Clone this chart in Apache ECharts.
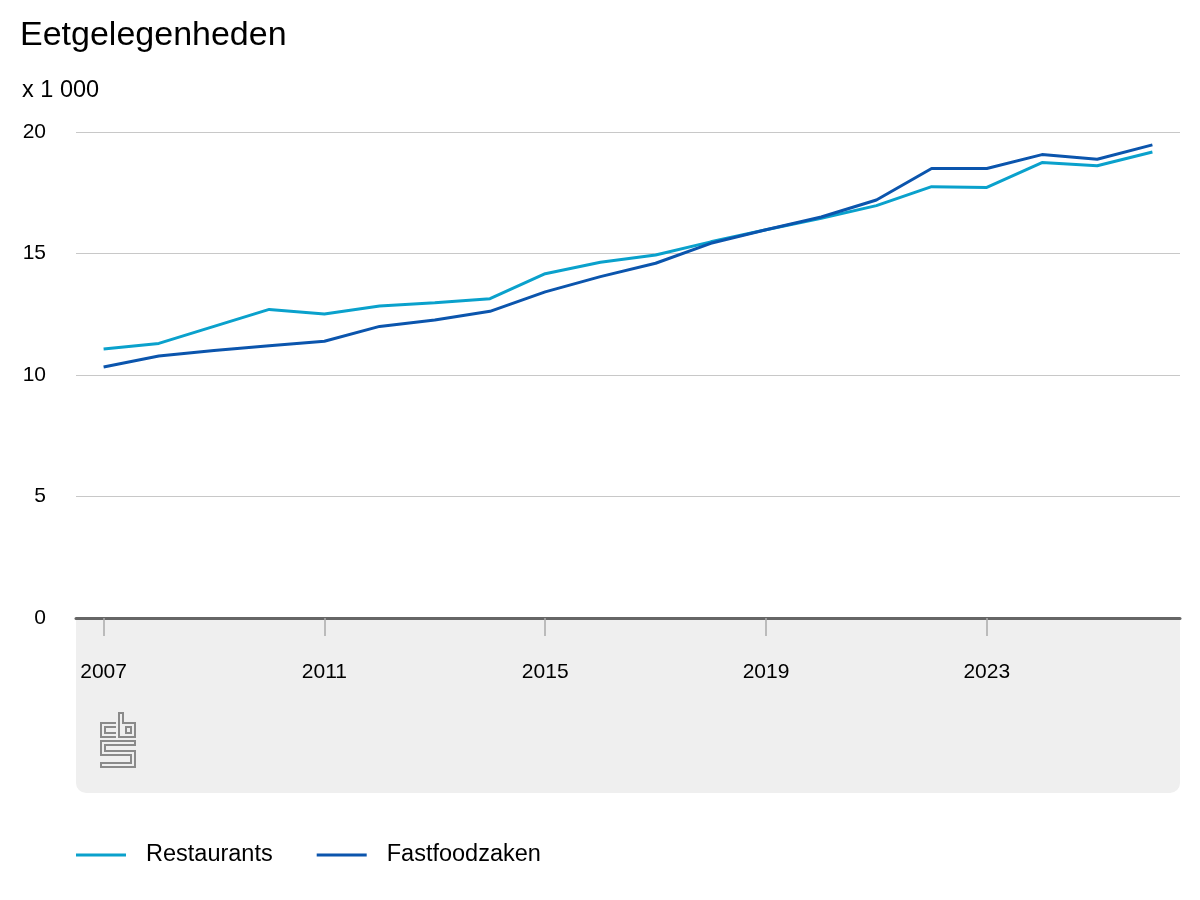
<!DOCTYPE html>
<html>
<head>
<meta charset="utf-8">
<style>
  html, body { margin: 0; padding: 0; background: #fff; }
  #main { width: 1200px; height: 900px; }
</style>
<script src="https://cdn.jsdelivr.net/npm/echarts@6/dist/echarts.min.js"></script>
</head>
<body>
<div id="main"></div>
<script>
// data (x 1 000)
var years = ['2007', '2008', '2009', '2010', '2011', '2012', '2013', '2014', '2015', '2016',
             '2017', '2018', '2019', '2020', '2021', '2022', '2023', '2024', '2025', '2026'];
var restaurants = [11.07, 11.3, 12.0, 12.7, 12.51, 12.84, 12.97, 13.14, 14.17, 14.64,
                   14.94, 15.48, 15.98, 16.45, 16.97, 17.75, 17.72, 18.74, 18.61, 19.18];
var fastfood = [10.33, 10.78, 11.01, 11.2, 11.39, 12.0, 12.26, 12.62, 13.42, 14.05,
                14.6, 15.42, 15.98, 16.5, 17.2, 18.5, 18.5, 19.07, 18.88, 19.47];
var yTicks = [0, 5, 10, 15, 20];

var font = 'Arial, "Liberation Sans", sans-serif';
var myChart = echarts.init(document.getElementById('main'));

myChart.setOption({
    textStyle: { fontFamily: font },
    title: [
        { text: 'Eetgelegenheden', left: 15, top: 14,
          textStyle: { fontSize: 34, fontWeight: 'normal', color: '#000', fontFamily: font } },
        { text: 'x 1 000', left: 17, top: 74,
          textStyle: { fontSize: 23.5, fontWeight: 'normal', color: '#000', fontFamily: font } }
    ],
    grid: { left: 76, right: 20, top: 132, bottom: 282, containLabel: false },
    legend: {
        left: 71, top: 838,
        icon: 'rect', itemWidth: 50, itemHeight: 3, itemGap: 44,
        textStyle: { fontSize: 23.5, color: '#000', padding: [0, 0, 0, 15], fontFamily: font },
        data: ['Restaurants', 'Fastfoodzaken']
    },
    xAxis: {
        type: 'category',
        data: years,
        boundaryGap: true,
        axisLine: { lineStyle: { color: '#666', width: 3 } },
        axisTick: { show: true, alignWithLabel: true, interval: 3, length: 18, lineStyle: { color: '#aaa', width: 1.5 } },
        axisLabel: { interval: 3, margin: 44, fontSize: 21, color: '#000', fontFamily: font }
    },
    yAxis: {
        type: 'value',
        min: yTicks[0], max: yTicks[yTicks.length - 1], interval: 5,
        axisLine: { show: false },
        axisTick: { show: false },
        axisLabel: { margin: 30, fontSize: 21, color: '#000', fontFamily: font },
        splitLine: { lineStyle: { color: '#c8c8c8', width: 1 } }
    },
    graphic: [
        { type: 'rect', zlevel: -1, z: -10, silent: true, shape: { x: 76, y: 619, width: 1104, height: 174, r: [0, 0, 10, 10] },
          style: { fill: '#efefef' } },
        { type: 'group', z: 10, silent: true, children: [
            { type: 'polyline', shape: { points: [[116, 723], [101, 723], [101, 737], [116, 737]] },
              style: { stroke: '#8a8a8a', lineWidth: 2, fill: null } },
            { type: 'polyline', shape: { points: [[116, 727], [105, 727], [105, 733], [116, 733]] },
              style: { stroke: '#8a8a8a', lineWidth: 2, fill: null } },
            { type: 'polygon', shape: { points: [[119, 713], [123, 713], [123, 723], [135, 723], [135, 737], [119, 737]] },
              style: { stroke: '#8a8a8a', lineWidth: 2, fill: null } },
            { type: 'rect', shape: { x: 126, y: 727, width: 5, height: 6 },
              style: { stroke: '#8a8a8a', lineWidth: 2, fill: null } },
            { type: 'polygon', shape: { points: [[101, 741], [135, 741], [135, 745], [105, 745], [105, 751], [135, 751],
                                                 [135, 767], [101, 767], [101, 763], [131, 763], [131, 755], [101, 755]] },
              style: { stroke: '#8a8a8a', lineWidth: 2, fill: null } }
        ] }
    ],
    series: [
        { name: 'Restaurants', type: 'line', data: restaurants, showSymbol: false, symbol: 'none',
          color: '#0aa1cc', lineStyle: { width: 3, color: '#0aa1cc' } },
        { name: 'Fastfoodzaken', type: 'line', data: fastfood, showSymbol: false, symbol: 'none',
          color: '#0b55ad', lineStyle: { width: 3, color: '#0b55ad' } }
    ]
});
</script>
</body>
</html>
